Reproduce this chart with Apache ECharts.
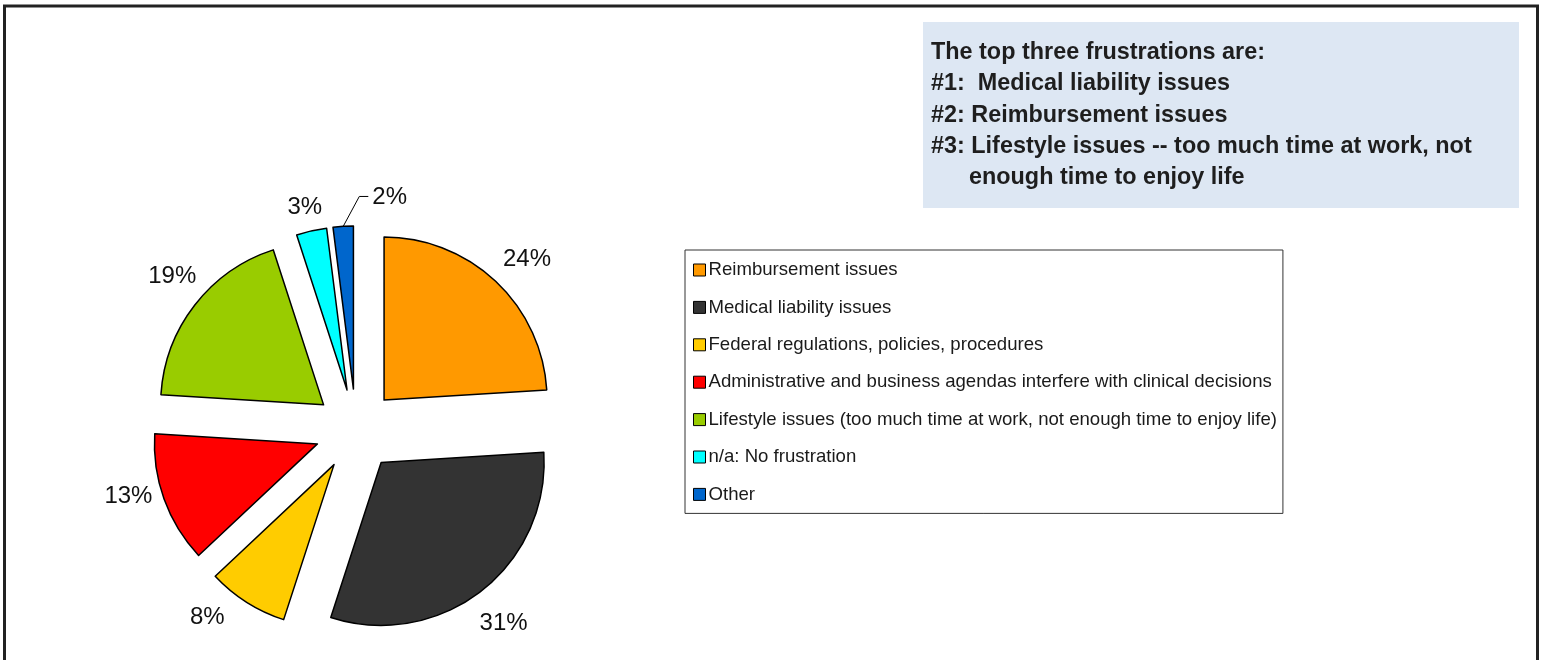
<!DOCTYPE html>
<html>
<head>
<meta charset="utf-8">
<script src="https://cdn.jsdelivr.net/npm/echarts@6/dist/echarts.min.js"></script>
<style>
  html, body { margin: 0; padding: 0; background: #ffffff; }
  #chart { width: 1541px; height: 660px; }
</style>
</head>
<body>
<div id="chart"></div>
<script>
// ---- data ----
const categories = [
  'Reimbursement issues',
  'Medical liability issues',
  'Federal regulations, policies, procedures',
  'Administrative and business agendas interfere with clinical decisions',
  'Lifestyle issues (too much time at work, not enough time to enjoy life)',
  'n/a: No frustration',
  'Other'
];
const values = [24, 31, 8, 13, 19, 3, 2];
const colors = ['#FF9900', '#333333', '#FFCC00', '#FF0000', '#99CC00', '#00FFFF', '#0066CC'];
const noteLines = [
  'The top three frustrations are:',
  '#1:  Medical liability issues',
  '#2: Reimbursement issues',
  '#3: Lifestyle issues -- too much time at work, not',
  'enough time to enjoy life'
];
const noteIndent = [0, 0, 0, 0, 1];

// label nudges (style only): [dx, dy] in px
const labelNudge = [[4, 7], [-2, 1], [-18, -19], [2, -16], [9, -4], [2, 15], [0, 0]];

const chart = echarts.init(document.getElementById('chart'), null, { renderer: 'canvas' });

const OTHER = categories.length - 1;

const pieData = categories.map((name, i) => ({
  name: name,
  value: values[i],
  selected: true,
  itemStyle: { color: colors[i] },
  label: { show: i === OTHER },
  labelLine: { show: i === OTHER }
}));

const labelData = categories.map((name, i) => ({
  name: name,
  value: values[i],
  selected: true,
  label: { show: i !== OTHER }
}));

const noteGraphics = noteLines.map((t, i) => ({
  type: 'text',
  left: noteIndent[i] ? 969 : 931,
  top: 41 + i * 31.3,
  silent: true,
  style: {
    text: t,
    font: 'bold 23.4px "Liberation Sans", Arial, sans-serif',
    fill: '#1e1e1e'
  }
}));

const LEN2 = 8;

const option = {
  animation: false,
  backgroundColor: '#ffffff',
  graphic: [
    {
      type: 'rect',
      silent: true,
      shape: { x: 4.5, y: 6, width: 1533, height: 700 },
      style: { fill: 'none', stroke: '#222', lineWidth: 3 }
    },
    {
      type: 'rect',
      silent: true,
      shape: { x: 923, y: 22, width: 596, height: 186 },
      style: { fill: '#dde7f3' }
    }
  ].concat(noteGraphics),
  legend: {
    orient: 'vertical',
    left: 685,
    top: 250,
    padding: [10, 6, 9, 8],
    borderColor: '#333',
    borderWidth: 1,
    backgroundColor: '#fff',
    itemWidth: 12,
    itemHeight: 12,
    itemGap: 17.4,
    selectedMode: false,
    icon: 'rect',
    itemStyle: { borderColor: '#000', borderWidth: 1 },
    textStyle: {
      fontFamily: '"Liberation Sans", Arial, sans-serif',
      fontSize: 18.6,
      lineHeight: 20,
      color: '#1a1a1a',
      padding: [0, 0, 0, -2]
    },
    data: categories
  },
  series: [
    {
      type: 'pie',
      center: [356, 430],
      radius: 163,
      startAngle: 90,
      clockwise: true,
      selectedMode: 'multiple',
      selectedOffset: 41,
      avoidLabelOverlap: false,
      silent: true,
      emphasis: { disabled: true },
      itemStyle: { borderColor: '#000', borderWidth: 1.5 },
      label: {
        position: 'outside',
        formatter: '{c}%',
        fontFamily: '"Liberation Sans", Arial, sans-serif',
        fontSize: 24,
        color: '#111'
      },
      labelLine: { length: 30, length2: LEN2, lineStyle: { color: '#000', width: 1 } },
      labelLayout: function (p) {
        if (p.dataIndex === OTHER && p.labelLinePoints) {
          const pts = p.labelLinePoints;
          const x2 = pts[1][0], y2 = pts[1][1];
          return {
            dx: LEN2 + 31 + 5,
            dy: 1,
            align: 'left',
            labelLinePoints: [pts[0], [x2 + 18, y2], [x2 + 27, y2]]
          };
        }
      },
      data: pieData
    },
    {
      type: 'pie',
      center: [356, 430],
      radius: [190, 210],
      startAngle: 90,
      clockwise: true,
      selectedMode: 'multiple',
      selectedOffset: 41,
      avoidLabelOverlap: false,
      silent: true,
      emphasis: { disabled: true },
      itemStyle: { color: 'rgba(0,0,0,0)', borderWidth: 0 },
      label: {
        position: 'inside',
        formatter: '{c}%',
        fontFamily: '"Liberation Sans", Arial, sans-serif',
        fontSize: 24,
        color: '#111'
      },
      labelLine: { show: false },
      labelLayout: function (p) {
        const n = labelNudge[p.dataIndex];
        return { dx: n[0], dy: n[1] };
      },
      data: labelData
    }
  ]
};

chart.setOption(option);
</script>
</body>
</html>
